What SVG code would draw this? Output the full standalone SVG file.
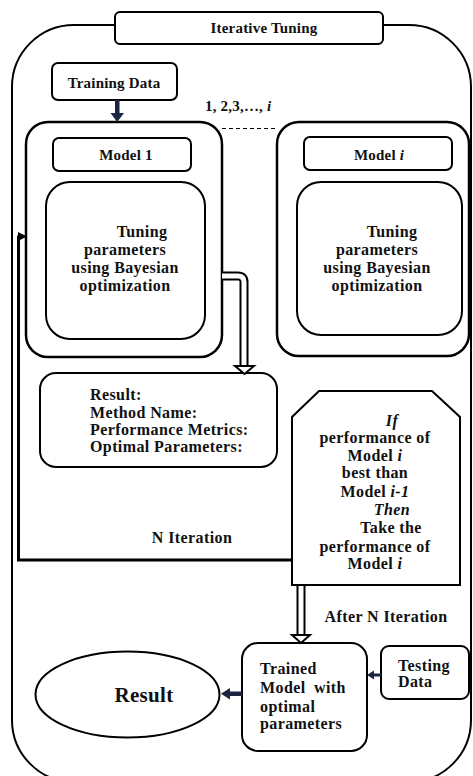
<svg xmlns="http://www.w3.org/2000/svg" width="473" height="776" viewBox="0 0 473 776">
<style>
.b{fill:#fff;stroke:#000;stroke-width:2}
.m{fill:#fff;stroke:#000;stroke-width:2.5}
text{font-family:"Liberation Serif","Times New Roman",serif;font-weight:bold;fill:#111}
.s{font-size:15px;letter-spacing:0.2px}
.t{font-size:16px;letter-spacing:0.4px}
.c{text-anchor:middle}
.nv{fill:#1b2440}
</style>
<rect width="473" height="776" fill="#fff"/>
<g id="container">
<rect x="12" y="25" width="459" height="757" rx="62" fill="none" stroke="#000" stroke-width="2"/>
</g>
<g id="title">
<rect class="b" x="115" y="12" width="268" height="32" rx="5"/>
<text class="s c" x="264" y="33">Iterative Tuning</text>
</g>
<g id="training-data">
<rect class="b" x="52" y="63" width="125" height="37" rx="6"/>
<text class="s c" x="114" y="88">Training Data</text>
</g>
<g id="sequence-label">
<text class="s" x="205" y="111">1, 2,3,…, <tspan font-style="italic">i</tspan></text>
<line x1="222" y1="128.5" x2="278" y2="128.5" stroke="#000" stroke-width="1.2" stroke-dasharray="4,3"/>
</g>
<g id="model-1">
<rect class="m" x="26" y="122" width="196" height="235" rx="22"/>
<rect class="b" x="53" y="138" width="138" height="33" rx="6"/>
<text class="s c" x="126" y="160">Model 1</text>
<rect class="b" x="46" y="182" width="159" height="157" rx="24"/>
<text class="t c" x="142" y="237">Tuning</text>
<text class="t c" x="125" y="255">parameters</text>
<text class="t c" x="125" y="273">using Bayesian</text>
<text class="t c" x="125" y="291">optimization</text>
</g>
<g id="model-i">
<rect class="m" x="277" y="122" width="192" height="234" rx="22"/>
<rect class="b" x="304" y="137" width="148" height="33" rx="6"/>
<text class="s c" x="379" y="160">Model <tspan font-style="italic">i</tspan></text>
<rect class="b" x="297" y="182" width="165" height="153" rx="24"/>
<text class="t c" x="392" y="237">Tuning</text>
<text class="t c" x="377" y="255">parameters</text>
<text class="t c" x="377" y="273">using Bayesian</text>
<text class="t c" x="377" y="291">optimization</text>
</g>
<g id="result-summary">
<rect class="b" x="40" y="373" width="237" height="94" rx="16"/>
<text class="t" x="90" y="400">Result:</text>
<text class="t" x="90" y="418">Method Name:</text>
<text class="t" x="90" y="435">Performance Metrics:</text>
<text class="t" x="90" y="452">Optimal Parameters:</text>
</g>
<g id="decision">
<path class="b" d="M319,391 L432,391 L460,417 L460,585 L292,585 L292,417 Z"/>
<text class="t c" x="392" y="426" font-style="italic">If</text>
<text class="t c" x="375" y="443">performance of</text>
<text class="t c" x="375" y="461">Model <tspan font-style="italic">i</tspan></text>
<text class="t c" x="375" y="478">best than</text>
<text class="t c" x="375" y="497">Model <tspan font-style="italic">i-1</tspan></text>
<text class="t c" x="392" y="515" font-style="italic">Then</text>
<text class="t c" x="391" y="533">Take the</text>
<text class="t c" x="375" y="552">performance of</text>
<text class="t c" x="375" y="569">Model <tspan font-style="italic">i</tspan></text>
</g>
<g id="trained-model">
<rect class="b" x="242" y="643" width="125" height="108" rx="16"/>
<text class="t" x="260" y="674">Trained</text>
<text class="t" x="260" y="693" word-spacing="4">Model with</text>
<text class="t" x="260" y="712">optimal</text>
<text class="t" x="260" y="729">parameters</text>
</g>
<g id="testing-data">
<rect class="b" x="381" y="646" width="88" height="53" rx="8"/>
<text class="t" x="398" y="671">Testing</text>
<text class="t" x="398" y="687">Data</text>
</g>
<g id="result">
<ellipse cx="127.5" cy="694.5" rx="92" ry="43" fill="#fff" stroke="#000" stroke-width="2"/>
<text class="c" x="144" y="702" font-size="21" letter-spacing="0.3">Result</text>
</g>
<g id="connectors">
<rect class="nv" x="115" y="100" width="4.5" height="14"/>
<polygon class="nv" points="110.5,113 124,113 117.2,122"/>
<path d="M222,276 L238,276 Q244,276 244,282 L244,366" fill="none" stroke="#000" stroke-width="9"/>
<path d="M222,276 L238,276 Q244,276 244,282 L244,367" fill="none" stroke="#fff" stroke-width="5"/>
<polygon points="235,366 254,366 244.5,374" fill="#fff" stroke="#000" stroke-width="2"/>
<path d="M292,560 L18.5,560 L18.5,237 L20,237" fill="none" stroke="#000" stroke-width="3"/>
<polygon points="18,232 27,236.5 18,241" fill="#000"/>
<text class="t c" x="192" y="543">N Iteration</text>
<path d="M301,586 L301,635" fill="none" stroke="#000" stroke-width="9"/>
<path d="M301,586 L301,636" fill="none" stroke="#fff" stroke-width="5"/>
<polygon points="292,635 310,635 301,643" fill="#fff" stroke="#000" stroke-width="2"/>
<text class="t c" x="386" y="622">After N Iteration</text>
<rect class="nv" x="229" y="691.5" width="13" height="4.5"/>
<polygon class="nv" points="230,688 230,699.5 221,693.8"/>
<rect class="nv" x="373" y="673.5" width="8" height="3"/>
<polygon class="nv" points="374,670.5 374,679.5 367,675"/>
</g>
</svg>
